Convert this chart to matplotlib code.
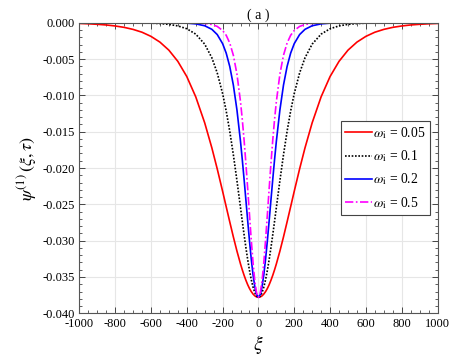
import numpy as np
import matplotlib
matplotlib.use('Agg')
import matplotlib.pyplot as plt
from matplotlib.ticker import MultipleLocator, FormatStrFormatter

plt.rcParams['font.family'] = ['Liberation Serif', 'DejaVu Serif']
plt.rcParams['mathtext.fontset'] = 'stix'
plt.rcParams['axes.unicode_minus'] = False

# posizioni xi (comuni a tutte le curve)
xi = np.array([-1000, -950, -900, -850, -800, -750, -700, -650, -600, -550, -500, -450, -400, -350, -300,
               -260, -230, -200, -180, -160, -140, -120, -100, -90, -80,
               -70, -60, -50, -40, -30, -20, -10, 0,
               10, 20, 30, 40, 50, 60, 70, 80, 90, 100,
               120, 140, 160, 180, 200, 230, 260, 300, 350, 400,
               450, 500, 550, 600, 650, 700, 750, 800, 850, 900, 950, 1000])

# omega_i = 0.05
psi_005 = np.array([-0.00010, -0.00015, -0.00022, -0.00031, -0.00045, -0.00064, -0.00092, -0.00131, -0.00188, -0.00267,
                    -0.00378, -0.00532, -0.00741, -0.01020, -0.01378,
                    -0.01723, -0.02012, -0.02320, -0.02532, -0.02742, -0.02948, -0.03143, -0.03321, -0.03402, -0.03477,
                    -0.03545, -0.03606, -0.03658, -0.03701, -0.03735, -0.03760, -0.03775, -0.03780,
                    -0.03775, -0.03760, -0.03735, -0.03701, -0.03658, -0.03606, -0.03545, -0.03477, -0.03402, -0.03321,
                    -0.03143, -0.02948, -0.02742, -0.02532, -0.02320, -0.02012, -0.01723, -0.01378, -0.01020, -0.00741,
                    -0.00532, -0.00378, -0.00267, -0.00188, -0.00131, -0.00092, -0.00064, -0.00045, -0.00031, -0.00022,
                    -0.00015, -0.00010])

# omega_i = 0.1
psi_01 = np.array([-0.0000004, -0.0000007, -0.0000013, -0.0000024, -0.0000047, -0.0000089, -0.000017, -0.000033, -0.000062, -0.00012,
                   -0.00023, -0.00044, -0.00083, -0.00157, -0.00295,
                   -0.00483, -0.00691, -0.00975, -0.01214, -0.01495, -0.01817, -0.02172, -0.02546, -0.02735, -0.02919,
                   -0.03095, -0.03260, -0.03408, -0.03536, -0.03640, -0.03717, -0.03764, -0.03780,
                   -0.03764, -0.03717, -0.03640, -0.03536, -0.03408, -0.03260, -0.03095, -0.02919, -0.02735, -0.02546,
                   -0.02172, -0.01817, -0.01495, -0.01214, -0.00975, -0.00691, -0.00483, -0.00295, -0.00157, -0.00083,
                   -0.00044, -0.00023, -0.00012, -0.000062, -0.000033, -0.000017, -0.0000089, -0.0000047, -0.0000024, -0.0000013,
                   -0.0000007, -0.0000004])

# omega_i = 0.2
psi_02 = np.array([0.0, 0.0, 0.0, 0.0, 0.0, 0.0, -0.0000002, -0.0000004, -0.0000012, -0.0000031,
                   -0.0000083, -0.000022, -0.000059, -0.00016, -0.00042,
                   -0.00091, -0.00163, -0.00288, -0.00418, -0.00603, -0.00858, -0.01199, -0.01635, -0.01887, -0.02157,
                   -0.02439, -0.02724, -0.03000, -0.03253, -0.03471, -0.03638, -0.03744, -0.03780,
                   -0.03744, -0.03638, -0.03471, -0.03253, -0.03000, -0.02724, -0.02439, -0.02157, -0.01887, -0.01635,
                   -0.01199, -0.00858, -0.00603, -0.00418, -0.00288, -0.00163, -0.00091, -0.00042, -0.00016, -0.000059,
                   -0.000022, -0.0000083, -0.0000031, -0.0000012, -0.0000004, -0.0000002, 0.0, 0.0, 0.0, 0.0,
                   0.0, 0.0])

# omega_i = 0.5
psi_05 = np.array([0.0, 0.0, 0.0, 0.0, 0.0, 0.0, 0.0, 0.0, 0.0, 0.0,
                   -0.0000008, -0.0000023, -0.0000078, -0.000027, -0.000092,
                   -0.00025, -0.00051, -0.00107, -0.00173, -0.00280, -0.00448, -0.00706, -0.01088, -0.01334, -0.01617,
                   -0.01936, -0.02282, -0.02640, -0.02990, -0.03305, -0.03559, -0.03723, -0.03780,
                   -0.03723, -0.03559, -0.03305, -0.02990, -0.02640, -0.02282, -0.01936, -0.01617, -0.01334, -0.01088,
                   -0.00706, -0.00448, -0.00280, -0.00173, -0.00107, -0.00051, -0.00025, -0.000092, -0.000027, -0.0000078,
                   -0.0000023, -0.0000008, 0.0, 0.0, 0.0, 0.0, 0.0, 0.0, 0.0, 0.0,
                   0.0, 0.0])

fig = plt.figure(figsize=(4.63, 3.57), dpi=100)
ax = fig.add_axes([0.1713, 0.1224, 0.7737, 0.8140])

ax.plot(xi, psi_005, color='red', lw=1.2, ls='-', label=r'$\omega_{\rm i}$ = 0.05')
ax.plot(xi, psi_01, color='black', lw=1.2, ls=(0, (1, 1)), label=r'$\omega_{\rm i}$ = 0.1')
ax.plot(xi, psi_02, color='blue', lw=1.2, ls='-', label=r'$\omega_{\rm i}$ = 0.2')
ax.plot(xi, psi_05, color='magenta', lw=1.2, ls=(0, (5, 1.5, 1, 1.5)), label=r'$\omega_{\rm i}$ = 0.5')

ax.set_xlim(-1000, 1000)
ax.set_ylim(-0.040, 0.000)
ax.xaxis.set_major_locator(MultipleLocator(200))
ax.xaxis.set_minor_locator(MultipleLocator(50))
ax.yaxis.set_major_locator(MultipleLocator(0.005))
ax.yaxis.set_minor_locator(MultipleLocator(0.001))
ax.yaxis.set_major_formatter(FormatStrFormatter('%.3f'))
ax.tick_params(which='both', direction='in', top=True, right=True, labelsize=9, color='#444444')
ax.tick_params(which='major', length=4, width=0.7)
ax.tick_params(which='minor', length=2, width=0.6)
ax.grid(True, which='major', color='#e6e6e6', lw=0.8)
ax.set_axisbelow(True)
for s in ax.spines.values():
    s.set_color('#555555')
    s.set_linewidth(0.8)

ax.set_xlabel(r'$\xi$', fontsize=14, labelpad=2)
ax.set_ylabel(r'$\psi^{(1)}\,(\xi,\tau)$', fontsize=13, labelpad=2)
ax.set_title('( a )', fontsize=10, pad=3)

leg = ax.legend(loc='upper right', bbox_to_anchor=(0.979, 0.662), fontsize=9.8,
                fancybox=False, framealpha=1, edgecolor='#444444', handlelength=2.0,
                handletextpad=0.1, labelspacing=0.55, borderpad=0.3, borderaxespad=0)
leg.get_frame().set_linewidth(0.8)

fig.savefig('out.png', dpi=100)
